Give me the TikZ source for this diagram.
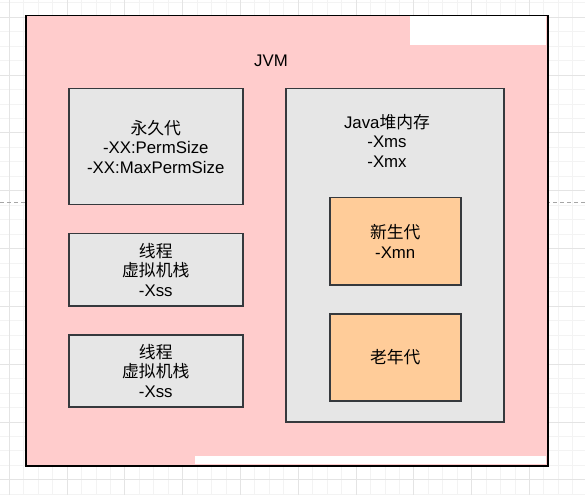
\documentclass[tikz,border=0pt]{standalone}
\usepackage{fontspec}
\setmainfont{Liberation Sans}
\newfontfamily\cjk{Noto Sans CJK SC}
\definecolor{pinkfill}{HTML}{FFCCCC}
\definecolor{greyfill}{HTML}{E6E6E6}
\definecolor{orangefill}{HTML}{FFCC99}
\definecolor{boxline}{HTML}{36393D}
\definecolor{gridminor}{HTML}{F3F3F3}
\definecolor{gridmajor}{HTML}{E4E4E4}
\newlength\pxl
\setlength\pxl{0.75pt}
\begin{document}
\begin{tikzpicture}[x=0.75pt,y=-0.75pt,
  txt/.style={font=\fontsize{12.6pt}{14.6pt}\selectfont, align=center, text=black},
  outerbox/.style={draw=black, fill=pinkfill, line width=1.5\pxl, anchor=north west, inner sep=0pt},
  greybox/.style={draw=boxline, fill=greyfill, line width=1.5\pxl, anchor=north west, inner sep=0pt, txt},
  orangebox/.style={draw=boxline, fill=orangefill, line width=1.5\pxl, anchor=north west, inner sep=0pt, txt},
  minorgrid/.style={draw=gridminor, line width=1\pxl},
  majorgrid/.style={draw=gridmajor, line width=1\pxl},
  pagebreak/.style={draw=gray!70, line width=1\pxl, dash pattern=on 4\pxl off 3\pxl}]
\useasboundingbox (0,0) rectangle (585,495);
\fill[white] (0,0) rectangle (585,495);
% grid
\foreach \k in {-1,...,41} {
  \draw[minorgrid] ({9.3+14.45*\k},0) -- ({9.3+14.45*\k},495);
  \draw[minorgrid] (0,{17.4+14.45*\k}) -- (585,{17.4+14.45*\k});
}
\foreach \k in {0,...,10} {
  \draw[majorgrid] ({9.3+57.8*\k},0) -- ({9.3+57.8*\k},495);
  \draw[majorgrid] (0,{17.4+57.8*\k}) -- (585,{17.4+57.8*\k});
}
\draw[pagebreak] (0,202.5) -- (585,202.5);
% JVM outer box
\node[outerbox, minimum width=522\pxl, minimum height=450\pxl] (jvm) at (25,15) {};
\fill[white] (410,15.8) rectangle (546.2,45);
\fill[white] (195,456) rectangle (546.2,464.2);
\node[txt] (jvmlabel) at (271,61) {JVM};
% left column
\node[greybox, minimum width=174\pxl, minimum height=116\pxl] (perm) at (68,88)
  {{\cjk 永久代}\\-XX:PermSize\\-XX:MaxPermSize};
\node[greybox, minimum width=174\pxl, minimum height=72\pxl] (stack1) at (68,233)
  {{\cjk 线程}\\{\cjk 虚拟机栈}\\-Xss};
\node[greybox, minimum width=174\pxl, minimum height=72\pxl] (stack2) at (68,334)
  {{\cjk 线程}\\{\cjk 虚拟机栈}\\-Xss};
% heap
\node[greybox, minimum width=218\pxl, minimum height=333\pxl] (heap) at (285,88) {};
\node[txt] (heaplabel) at (387,140.5) {Java{\cjk 堆内存}\\-Xms\\-Xmx};
\node[orangebox, minimum width=131\pxl, minimum height=87\pxl] (young) at (329,197)
  {{\cjk 新生代}\\-Xmn};
\node[orangebox, minimum width=131\pxl, minimum height=87\pxl] (old) at (329,313)
  {{\cjk 老年代}};
\end{tikzpicture}
\end{document}
